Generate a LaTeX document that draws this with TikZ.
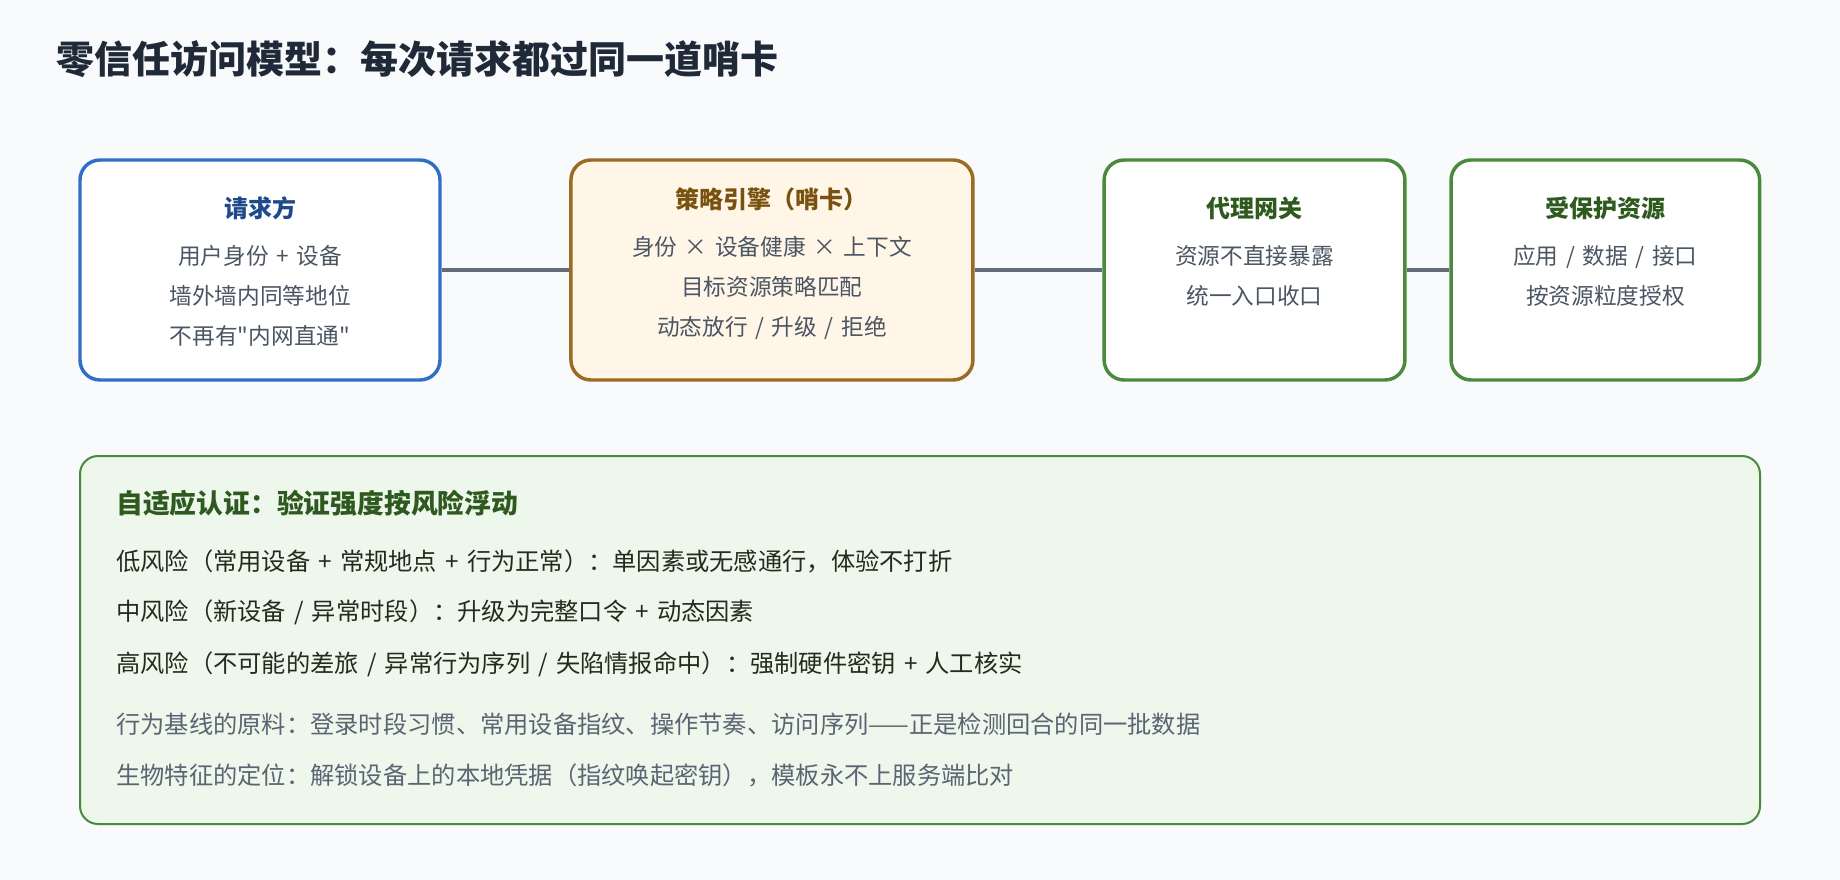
\documentclass[tikz,border=0pt]{standalone}
\usepackage{fontspec}
\setmainfont{Noto Sans CJK SC}[Ligatures=TeXOff, WordSpace=1.5]
\usepackage{xcolor}
\usetikzlibrary{positioning}

\definecolor{pagebg}{HTML}{F8FAFC}
\definecolor{titleink}{HTML}{1F2937}
\definecolor{reqblue}{HTML}{2F6FC8}
\definecolor{reqink}{HTML}{1E4A8C}
\definecolor{polbrown}{HTML}{9A6B22}
\definecolor{polfill}{HTML}{FFF6E8}
\definecolor{polink}{HTML}{7A5210}
\definecolor{okgreen}{HTML}{4A8A3C}
\definecolor{okink}{HTML}{2F5A1F}
\definecolor{riskfill}{HTML}{EEF7EC}
\definecolor{riskink}{HTML}{222B1C}
\definecolor{bodygray}{HTML}{4B5563}
\definecolor{notegray}{HTML}{5B6472}
\definecolor{linkgray}{HTML}{646B78}

\begin{document}
\begin{tikzpicture}[x=0.75pt,y=-0.75pt]

\tikzstyle{stagebox}=[rectangle, rounded corners=15pt, minimum height=165pt,
line width=2.6pt, fill=white, inner sep=0pt]

\tikzstyle{stagetitle}=[font=\fontsize{18}{22}\selectfont\bfseries, inner sep=0pt]

\tikzstyle{stagetext}=[font=\fontsize{17}{30}\selectfont, text=bodygray,
align=center, inner sep=0pt]

\tikzstyle{riskline}=[anchor=west, inner sep=0pt, font=\fontsize{18.2}{22}\selectfont]

\tikzstyle{wire}=[draw=linkgray, line width=2.6pt]

%background
\fill[pagebg] (0,0) rectangle (1840,880);

\node[anchor=west, inner sep=0pt, text=titleink, font=\fontsize{28.5}{34}\selectfont\bfseries]
(ttl) at (56,59)
{零信任访问模型：每次请求都过同一道哨卡};

%requester
\node[stagebox, draw=reqblue, minimum width=270pt]
(req) at (260,270)
{};
\node[stagetitle, text=reqink]
(reqT) at ([yshift=-37.5pt]req.north)
{请求方};
\node[stagetext]
(reqB) at ([yshift=-103.5pt]req.north)
{用户身份 + 设备\\墙外墙内同等地位\\不再有"内网直通"};

%policy engine
\node[stagebox, draw=polbrown, fill=polfill, minimum width=301.5pt]
(pol) [right=95.6pt of req]
{};
\node[stagetitle, text=polink]
(polT) at ([yshift=-31pt]pol.north)
{策略引擎（哨卡）};
\node[stagetext]
(polB) at ([yshift=-97.25pt]pol.north)
{身份 × 设备健康 × 上下文\\目标资源策略匹配\\动态放行 / 升级 / 拒绝};

%gateway
\node[stagebox, draw=okgreen, minimum width=225.6pt]
(gw) [right=95.8pt of pol]
{};
\node[stagetitle, text=okink]
(gwT) at ([yshift=-37.5pt]gw.north)
{代理网关};
\node[stagetext]
(gwB) at ([yshift=-88.5pt]gw.north)
{资源不直接暴露\\统一入口收口};

%protected resource
\node[stagebox, draw=okgreen, minimum width=231.4pt]
(res) [right=32pt of gw]
{};
\node[stagetitle, text=okink]
(resT) at ([yshift=-37.5pt]res.north)
{受保护资源};
\node[stagetext]
(resB) at ([yshift=-88.5pt]res.north)
{应用 / 数据 / 接口\\按资源粒度授权};

\path[wire] (req) edge (pol);
\path[wire] (pol) edge (gw);
\path[wire] (gw) edge (res);

%adaptive authentication
\node[rectangle, rounded corners=13.5pt, draw=okgreen, fill=riskfill, line width=1.5pt,
minimum width=1260pt, minimum height=276pt, inner sep=0pt]
(risk) at (920,640)
{};

\node[riskline, text=okink, font=\fontsize{20.1}{24}\selectfont\bfseries]
(riskT) at ([xshift=27.75pt,yshift=-36pt]risk.north west)
{自适应认证：验证强度按风险浮动};
\node[riskline, text=riskink]
(low) at ([xshift=27.75pt,yshift=-79.5pt]risk.north west)
{低风险（常用设备 + 常规地点 + 行为正常）：单因素或无感通行，体验不打折};
\node[riskline, text=riskink]
(mid) at ([xshift=27.75pt,yshift=-118pt]risk.north west)
{中风险（新设备 / 异常时段）：升级为完整口令 + 动态因素};
\node[riskline, text=riskink]
(high) at ([xshift=27.75pt,yshift=-157pt]risk.north west)
{高风险（不可能的差旅 / 异常行为序列 / 失陷情报命中）：强制硬件密钥 + 人工核实};
\node[riskline, text=notegray]
(base) at ([xshift=27.75pt,yshift=-202.25pt]risk.north west)
{行为基线的原料：登录时段习惯、常用设备指纹、操作节奏、访问序列——正是检测回合的同一批数据};
\node[riskline, text=notegray]
(bio) at ([xshift=27.75pt,yshift=-240.25pt]risk.north west)
{生物特征的定位：解锁设备上的本地凭据（指纹唤起密钥），模板永不上服务端比对};

\end{tikzpicture}
\end{document}
